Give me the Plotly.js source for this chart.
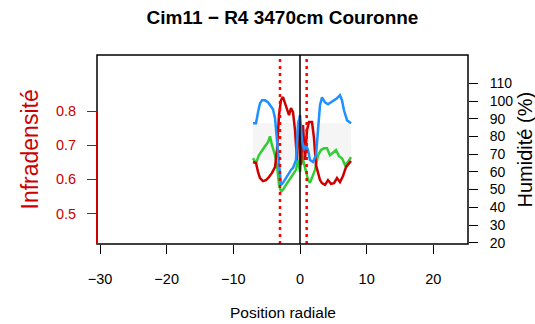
<!DOCTYPE html>
<html>
<head>
<meta charset="utf-8">
<script src="https://cdn.plot.ly/plotly-3.0.1.min.js"></script>
<style>html,body{margin:0;padding:0;background:#fff;}#chart{width:535px;height:324px;}</style>
</head>
<body>
<div id="chart"></div>
<script>
// Infradensity (red, left axis)
const redX = [-7.05,-6.6,-6.3,-6.0,-5.55,-5.1,-4.65,-4.2,-3.75,-3.45,-3.15,-2.85,-2.55,-2.25,-1.95,-1.65,-1.35,-1.05,-0.75,-0.45,-0.15,0.15,0.45,0.75,1.05,1.35,1.8,2.1,2.4,2.7,3.0,3.3,3.75,4.2,4.65,5.1,5.55,6.0,6.45,6.9,7.35,7.65];
const redY = [0.651,0.648,0.622,0.604,0.595,0.598,0.607,0.619,0.636,0.686,0.788,0.832,0.841,0.823,0.812,0.788,0.809,0.797,0.744,0.657,0.774,0.642,0.759,0.657,0.744,0.768,0.768,0.721,0.642,0.622,0.598,0.589,0.584,0.598,0.587,0.589,0.604,0.592,0.610,0.636,0.648,0.654];
// Green series (left axis)
const greenX = [-7.05,-6.6,-6.15,-5.7,-5.25,-4.8,-4.5,-4.2,-3.75,-3.45,-3.15,-2.85,-2.55,-2.1,-1.8,-1.35,-1.05,-0.6,-0.3,0.0,0.3,0.6,0.9,1.2,1.5,1.8,2.25,2.7,3.15,3.6,4.05,4.5,4.95,5.4,5.85,6.3,6.75,7.2,7.65];
const greenY = [0.662,0.648,0.671,0.686,0.697,0.709,0.726,0.700,0.671,0.642,0.584,0.564,0.570,0.584,0.593,0.604,0.613,0.628,0.657,0.622,0.671,0.648,0.622,0.599,0.590,0.604,0.628,0.671,0.686,0.691,0.691,0.671,0.680,0.686,0.668,0.662,0.642,0.651,0.665];
// Humidity (blue, right axis)
const blueX = [-7.05,-6.6,-6.3,-6.0,-5.7,-5.25,-4.8,-4.5,-4.05,-3.75,-3.45,-3.15,-2.85,-2.55,-2.1,-1.8,-1.35,-1.05,-0.6,-0.3,0.0,0.3,0.6,0.9,1.2,1.5,1.95,2.4,2.7,3.0,3.3,3.75,4.2,4.65,5.1,5.55,6.0,6.3,6.6,7.05,7.65];
const blueY = [87.5,87.5,93.7,98.8,100.4,100.4,99.3,97.6,95.4,90.3,77.9,61.1,52.6,53.8,56.6,58.3,61.1,62.2,66.7,86.4,92.0,77.9,72.3,75.1,72.3,66.7,65.6,69.5,83.6,97.6,102.1,99.3,98.2,99.3,100.4,101.6,103.3,100.4,94.8,89.2,87.5];
const xTicks = [-30,-20,-10,0,10,20];
const yTicks = [0.5,0.6,0.7,0.8];
const y2Ticks = [20,30,40,50,60,70,80,90,100,110];
const vLines = [-3,1];

const RED = '#CD0000';
const FONT = 'Liberation Sans, Arial, sans-serif';

const traces = [
  {x: blueX, y: blueY, yaxis: 'y2', mode: 'lines', line: {color: '#1E90FF', width: 2.5}, hoverinfo: 'skip'},
  {x: greenX, y: greenY, mode: 'lines', line: {color: '#32CD32', width: 2.5}, hoverinfo: 'skip'},
  {x: redX, y: redY, mode: 'lines', line: {color: RED, width: 2.5}, hoverinfo: 'skip'}
];

const shapes = [
  {type: 'rect', xref: 'x', yref: 'y2', x0: -7.05, x1: 7.65, y0: 66.5, y1: 87.5, fillcolor: '#F5F5F5', line: {width: 0}, layer: 'below'},
  {type: 'line', xref: 'x', yref: 'paper', x0: 0, x1: 0, y0: 0, y1: 1, line: {color: 'black', width: 1.5}},
  ...vLines.map(v => ({type: 'line', xref: 'x', yref: 'paper', x0: v, x1: v, y0: 0, y1: 1, line: {color: '#FF0000', width: 2.5, dash: '3px,4px'}})),
  {type: 'rect', xref: 'paper', yref: 'paper', x0: 0, x1: 1, y0: 0, y1: 1, line: {color: 'black', width: 1.5}},
  {type: 'line', xref: 'paper', yref: 'y', x0: 0, x1: 0, y0: 0.411, y1: 0.8, line: {color: RED, width: 2}}
];

const layout = {
  width: 535, height: 324,
  margin: {l: 97, r: 67, t: 55, b: 80, pad: 0},
  paper_bgcolor: 'white', plot_bgcolor: 'white',
  showlegend: false,
  font: {family: FONT, size: 14, color: 'black'},
  title: {text: '<b>Cim11 − R4 3470cm Couronne</b>', font: {family: FONT, size: 19, color: 'black'}, x: 0.528, xanchor: 'center', y: 0.945, yanchor: 'middle'},
  xaxis: {range: [-30.45, 25.2], tickvals: xTicks, ticktext: xTicks.map(v => v < 0 ? '−' + Math.abs(v) : String(v)), ticks: 'outside', ticklen: 9, tickwidth: 1, tickcolor: 'black', showgrid: false, zeroline: false, showline: false, ticklabelstandoff: 13, tickfont: {size: 14.5}},
  yaxis: {range: [0.411, 0.964], tickvals: yTicks, ticktext: yTicks.map(v => v.toFixed(1)), ticks: 'outside', ticklen: 9, tickwidth: 1, tickcolor: RED, tickfont: {color: RED, size: 14.5}, showgrid: false, zeroline: false, showline: false, ticklabelstandoff: 8},
  yaxis2: {range: [19.27, 126], overlaying: 'y', side: 'right', tickvals: y2Ticks, ticks: 'outside', ticklen: 9, tickwidth: 1, tickcolor: 'black', tickfont: {size: 14}, showgrid: false, zeroline: false, showline: false, ticklabelstandoff: 9},
  shapes: shapes,
  annotations: [
    {text: 'Infradensité', xref: 'paper', yref: 'paper', x: (29 - 97) / 371, y: 0.5, xanchor: 'center', yanchor: 'middle', textangle: -90, showarrow: false, font: {family: FONT, size: 23, color: RED}},
    {text: 'Humidité (%)', xref: 'paper', yref: 'paper', x: (524 - 97) / 371, y: 0.5, xanchor: 'center', yanchor: 'middle', textangle: -90, showarrow: false, font: {family: FONT, size: 20, color: 'black'}},
    {text: 'Position radiale', xref: 'paper', yref: 'paper', x: 0.5, y: (244 - 312) / 189, xanchor: 'center', yanchor: 'middle', showarrow: false, font: {family: FONT, size: 15.5, color: 'black'}}
  ]
};

Plotly.newPlot('chart', traces, layout, {staticPlot: true, displayModeBar: false});
</script>
</body>
</html>
